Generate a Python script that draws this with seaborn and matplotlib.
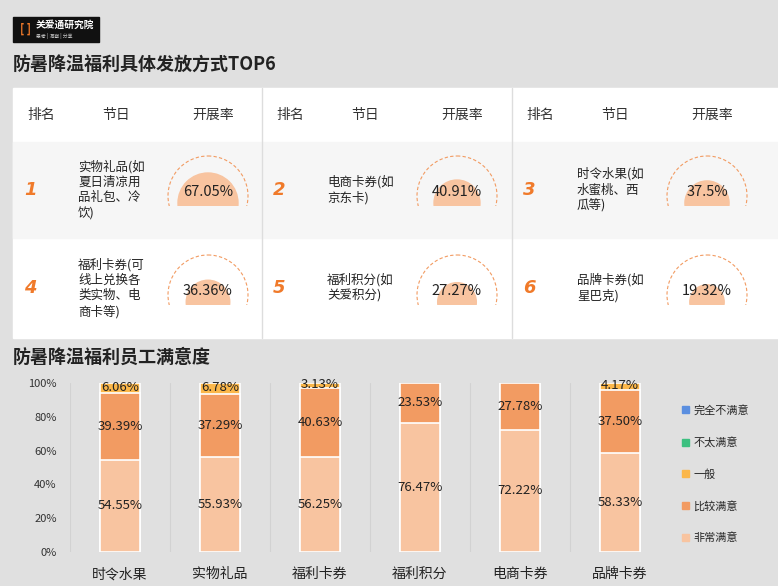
import numpy as np
import pandas as pd
import matplotlib.pyplot as plt
import matplotlib.patches as mpatches
import seaborn as sns

sns.set_theme(style='white')
plt.rcParams['font.family'] = ['Noto Sans CJK SC', 'DejaVu Sans']

# top table
ranks = ['1', '2', '3', '4', '5', '6']
items = ['实物礼品(如\n夏日清凉用\n品礼包、冷\n饮)', '电商卡券(如\n京东卡)', '时令水果(如\n水蜜桃、西\n瓜等)',
         '福利卡券(可\n线上兑换各\n类实物、电\n商卡等)', '福利积分(如\n关爱积分)', '品牌卡券(如\n星巴克)']
rates = [67.05, 40.91, 37.5, 36.36, 27.27, 19.32]
rate_labels = ['67.05%', '40.91%', '37.5%', '36.36%', '27.27%', '19.32%']

# bottom chart
categories = ['时令水果', '实物礼品', '福利卡券', '福利积分', '电商卡券', '品牌卡券']
very = [54.55, 55.93, 56.25, 76.47, 72.22, 58.33]
fairly = [39.39, 37.29, 40.63, 23.53, 27.78, 37.50]
general = [6.06, 6.78, 3.13, 0, 0, 4.17]
legend_names = ['完全不满意', '不太满意', '一般', '比较满意', '非常满意']
colors = ['#5b8fe0', '#3cc080', '#fbb74a', '#f29b62', '#f8c4a0']

BG = '#e0e0e0'
fig = plt.figure(figsize=(7.78, 5.86), dpi=100, facecolor=BG)

# pixel-coordinate overlay
ov = fig.add_axes([0, 0, 1, 1])
ov.set_xlim(0, 778)
ov.set_ylim(586, 0)
ov.axis('off')
ov.set_zorder(0)

ov.add_patch(mpatches.Rectangle((13, 17), 86, 25, color='#111111'))
ov.text(20, 29, '[ ]', color='#f07a2a', fontsize=8, va='center', weight='bold')
ov.text(36, 25, '关爱通研究院', color='white', fontsize=7, va='center', weight='bold')
ov.text(36, 36, '思考 | 洞察 | 分享', color='#cccccc', fontsize=3.5, va='center')
ov.text(13, 65, '防暑降温福利具体发放方式TOP6', fontsize=13, weight='bold', va='center', color='#222222')

ov.add_patch(mpatches.Rectangle((13, 88), 765, 250, color='white'))
ov.add_patch(mpatches.Rectangle((13, 142), 765, 96, color='#f6f6f6'))
for xd in [262, 512]:
    ov.plot([xd, xd], [88, 338], color='#dddddd', lw=1)

for g, x0 in enumerate([13, 262, 512]):
    ov.text(x0 + 28, 115, '排名', fontsize=10, ha='center', va='center', color='#333333')
    ov.text(x0 + 103, 115, '节日', fontsize=10, ha='center', va='center', color='#333333')
    ov.text(x0 + 200, 115, '开展率', fontsize=10, ha='center', va='center', color='#333333')

for i in range(6):
    x0 = [13, 262, 512][i % 3]
    yc = 190 if i < 3 else 288
    base = 206 if i < 3 else 305
    ov.text(x0 + 17, yc, ranks[i], fontsize=13, style='italic', weight='bold', color='#f07a2a', va='center', ha='center',
            family=['DejaVu Sans'])
    ov.text(x0 + 65, yc, items[i], fontsize=9, va='center', ha='left', color='#222222', linespacing=1.25)
    cx = x0 + 195
    clip = mpatches.Rectangle((cx - 60, base - 60), 120, 60, transform=ov.transData, visible=False)
    ov.add_patch(clip)
    outer = mpatches.Circle((cx, base - 10), 40, fill=False, ls=(0, (3, 2)), ec='#f29b62', lw=0.8)
    r = 12 + 18 * rates[i] / 67.05
    inner = mpatches.Circle((cx, base - 3), r, color='#f8c4a0')
    for p in (outer, inner):
        ov.add_patch(p)
        p.set_clip_path(clip)
    ov.text(cx, base - 14, rate_labels[i], fontsize=10.5, ha='center', va='center', color='#222222')

ov.text(13, 357, '防暑降温福利员工满意度', fontsize=13, weight='bold', va='center', color='#222222')

# stacked bars
ax = fig.add_axes([70 / 778, 1 - 552 / 586, 600 / 778, 169 / 586], facecolor=BG)
ax.set_zorder(1)
df = pd.DataFrame({'cat': categories, 'very': very, 'fairly': fairly, 'general': general})
df['t2'] = df['very'] + df['fairly']
df['t3'] = df['t2'] + df['general']
for col, c in [('t3', colors[2]), ('t2', colors[3]), ('very', colors[4])]:
    sns.barplot(data=df, x='cat', y=col, color=c, saturation=1, width=0.4, edgecolor='white', linewidth=1.2, ax=ax)

for i in range(len(categories)):
    ax.text(i, very[i] / 2, f'{very[i]:.2f}%', ha='center', va='center', fontsize=9.5, color='#222222')
    ax.text(i, very[i] + fairly[i] / 2, f'{fairly[i]:.2f}%', ha='center', va='center', fontsize=9.5, color='#222222')
    if general[i] > 0:
        ax.text(i, 100 - general[i] / 2 + 0.5, f'{general[i]:.2f}%', ha='center', va='center', fontsize=9.5, color='#222222')
for xv in np.arange(0.5, len(categories) - 0.5):
    ax.axvline(xv, color='#d2d2d2', lw=0.8, zorder=0)
ax.axvline(-0.5, color='#d2d2d2', lw=0.8, zorder=0)

ax.set_xlim(-0.5, len(categories) - 0.5)
ax.set_ylim(0, 100)
ax.set_yticks(range(0, 101, 20))
ax.set_yticklabels([f'{v}%' for v in range(0, 101, 20)], fontsize=8, color='#333333')
ax.tick_params(axis='x', labelsize=10, colors='#222222', pad=5)
ax.set_xlabel('')
ax.set_ylabel('')
sns.despine(ax=ax, left=True, bottom=True)

handles = [mpatches.Patch(color=c, label=n) for c, n in zip(colors, legend_names)]
fig.legend(handles=handles, loc='upper left', bbox_to_anchor=(672 / 778, 1 - 395 / 586), frameon=False,
           fontsize=8, handlelength=0.6, handleheight=0.6, labelspacing=1.9, handletextpad=0.4)

fig.savefig('out.png', dpi=100, facecolor=BG)
